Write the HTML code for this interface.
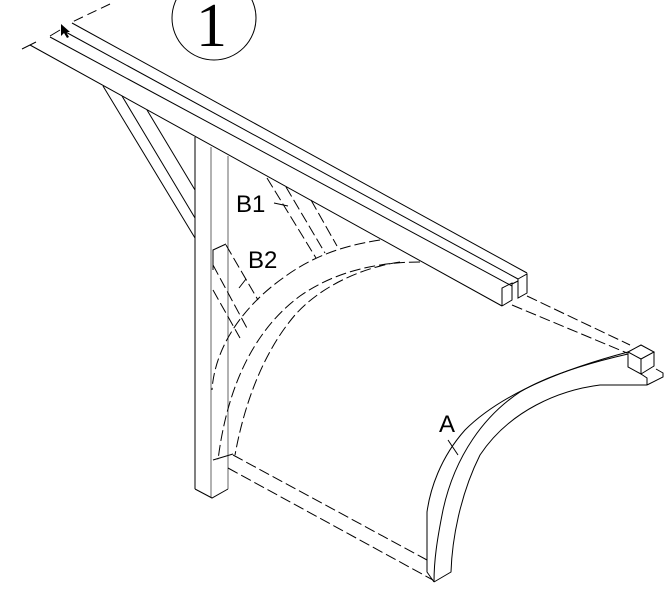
<!DOCTYPE html>
<html><head><style>body{margin:0;background:#fff}svg{display:block}</style></head>
<body>
<svg width="669" height="601" viewBox="0 0 669 601" xmlns="http://www.w3.org/2000/svg" font-family="Liberation Sans, sans-serif">
<rect width="669" height="601" fill="#fff"/>
<g fill="none" stroke="#000" stroke-width="1">
<circle cx="214" cy="18" r="42"/>
<line x1="72" y1="23" x2="527" y2="273"/>
<line x1="62" y1="30" x2="518" y2="279"/>
<line x1="50" y1="37" x2="512" y2="286"/>
<line x1="30" y1="45" x2="502" y2="306"/>
<line x1="110" y1="4" x2="70" y2="23" stroke-dasharray="10,5"/>
<line x1="60" y1="30" x2="50" y2="36"/>
<line x1="36" y1="42" x2="22" y2="49"/>
<polyline points="502,306 502,288 512,283 512,300 502,306"/>
<polyline points="518,279 518,298 527,293 527,274 518,279"/>
<line x1="512" y1="284" x2="518" y2="281"/>
<line x1="195" y1="137" x2="195" y2="489"/>
<line x1="211" y1="147" x2="211" y2="498" stroke="#666"/>
<line x1="228" y1="156" x2="228" y2="489" stroke="#666"/>
<polyline points="195,489 212,498 228,489"/>
<line x1="103" y1="86" x2="195" y2="238"/>
<line x1="122" y1="96" x2="195" y2="218"/>
<line x1="147" y1="110" x2="195" y2="190"/>
<g stroke-dasharray="11,4">
<line x1="267" y1="178" x2="316" y2="258"/>
<line x1="286" y1="187" x2="325" y2="253"/>
<line x1="311" y1="200" x2="337" y2="246"/>
<line x1="213" y1="265" x2="248" y2="330"/>
<line x1="226" y1="245" x2="258" y2="300"/>
<line x1="213" y1="290" x2="240" y2="338"/>
</g>
<polyline points="213,270 213,250 226,244"/>
<line x1="274" y1="203" x2="288" y2="206"/>
<line x1="246" y1="279" x2="239" y2="288"/>
<g stroke-dasharray="11,4">
<path d="M380,240 C340,246 310,258 283,278 C245,305 215,345 212,390"/>
<path d="M420,262 C370,262 330,275 300,296 C258,327 228,380 218,460"/>
<path d="M400,262 C360,268 320,287 295,315 C265,350 245,400 235,455"/>
<line x1="512" y1="305" x2="627" y2="353"/>
<line x1="527" y1="296" x2="630" y2="345"/>
<line x1="233" y1="455" x2="427" y2="560"/>
<line x1="228" y1="468" x2="433" y2="580"/>
</g>
<line x1="213" y1="460" x2="233" y2="454"/>
<path d="M628,352 C560,370 500,395 465,430 C440,458 430,490 427,512 L427,572 L434,582"/>
<path d="M628,354 C580,365 545,377 520,392 C485,415 455,455 443,510 C437,540 434,560 434,582"/>
<path d="M434,582 L451,572 C452,540 460,495 480,455 C510,410 560,390 600,385 L647,385"/>
<polygon points="628,352 641,345 654,352 641,359"/>
<polyline points="628,352 628,367 641,374 641,359"/>
<polyline points="654,352 654,366 641,374"/>
<polyline points="647,385 663,377 663,373 656,369"/>
<polyline points="641,374 647,378 647,385"/>
<line x1="448" y1="440" x2="458" y2="455"/>
</g>
<g fill="#000">
<text x="196" y="46" font-size="62" font-family="Liberation Serif, serif">1</text>
<text x="236" y="212" font-size="24">B1</text>
<text x="248" y="268" font-size="24">B2</text>
<text x="439" y="432" font-size="24">A</text>
</g>
<polygon points="61,24 61,36 64,33 67,38 69,37 66,32 70,32" fill="#000"/>
</svg>
</body></html>
